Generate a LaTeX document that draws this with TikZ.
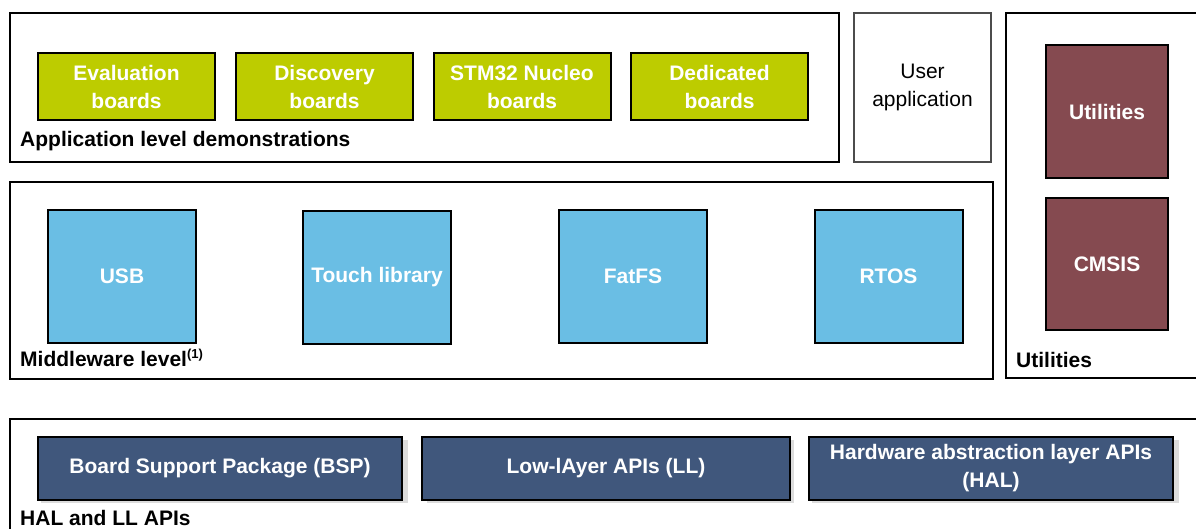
\documentclass[tikz,border=0pt]{standalone}
\usepackage{fontspec}
\setmainfont{Liberation Sans}
\definecolor{evalgreen}{HTML}{BDCC00}
\definecolor{midblue}{HTML}{6ABEE4}
\definecolor{utilred}{HTML}{854A50}
\definecolor{halblue}{HTML}{40577C}
\definecolor{shade}{HTML}{DCDCDC}
\tikzset{
  frame/.style={draw=black, line width=2.4pt, anchor=north west, inner sep=0pt},
  boardbox/.style={draw=black, line width=2pt, fill=evalgreen, text=white, align=center,
    minimum width=177pt, minimum height=67pt, inner sep=0pt,
    font=\bfseries\fontsize{21}{28}\selectfont},
  midbox/.style={draw=black, line width=2pt, fill=midblue, text=white,
    minimum width=148pt, minimum height=133pt, inner sep=0pt,
    font=\bfseries\fontsize{21}{26}\selectfont},
  utilbox/.style={draw=black, line width=2pt, fill=utilred, text=white,
    minimum width=122pt, minimum height=132pt, inner sep=0pt,
    font=\bfseries\fontsize{21}{26}\selectfont},
  apibox/.style={draw=black, line width=2pt, fill=halblue, text=white, align=center,
    minimum width=367pt, minimum height=63pt, inner sep=0pt,
    font=\bfseries\fontsize{21}{28}\selectfont},
  apishade/.style={fill=shade, minimum width=367pt, minimum height=63pt, inner sep=0pt},
  levellabel/.style={anchor=west, inner sep=0pt, font=\bfseries\fontsize{21}{25}\selectfont}
}
\begin{document}
\begin{tikzpicture}[x=1pt,y=-1pt]
  \useasboundingbox (0,0) rectangle (1196,528);

  % outer frames
  \node[frame, minimum width=829pt, minimum height=149pt] (appframe) at (9,12) {};
  \node[frame, draw=black!70, line width=2pt, minimum width=137pt, minimum height=149pt,
        align=center, font=\fontsize{21}{28}\selectfont] (user) at (853,12)
        {User\\application};
  \node[frame, minimum width=983pt, minimum height=197pt] (midframe) at (9,181) {};
  \node[frame, minimum width=220pt, minimum height=365pt] (utilframe) at (1005,12) {};
  \node[frame, minimum width=1210pt, minimum height=140pt] (halframe) at (9,418) {};

  % application level
  \node[boardbox] (eval) at (126.5,86.5) {Evaluation\\boards};
  \node[boardbox] (disco) at (324.5,86.5) {Discovery\\boards};
  \node[boardbox] (nucleo) at (522,86.5) {STM32 Nucleo\\boards};
  \node[boardbox] (dedic) at (719.5,86.5) {Dedicated\\boards};
  \node[levellabel] (applabel) at (20,141) {Application level demonstrations};

  % middleware level
  \node[midbox] (usb) at (122,276.5) {USB};
  \node[midbox] (touch) at (377,277) {Touch library};
  \node[midbox] (fatfs) at (633,276.5) {FatFS};
  \node[midbox] (rtos) at (888.5,276.5) {RTOS};
  \node[levellabel] (midlabel) at (20,358) {Middleware level\textsuperscript{\fontsize{13}{13}\selectfont(1)}};

  % utilities
  \node[utilbox, minimum height=133pt] (utils) at (1107,111.5) {Utilities};
  \node[utilbox] (cmsis) at (1107,264) {CMSIS};
  \node[levellabel] (utillabel) at (1016,360) {Utilities};

  % HAL and LL
  \foreach \x in {220,606,991} {
    \node[apishade] at (\x+4,471.5) {};
  }
  \node[apibox, minimum width=364pt] (bsp) at (220,468.5) {Board Support Package (BSP)};
  \node[apibox, minimum width=368pt] (ll) at (606,468.5) {Low-lAyer APIs (LL)};
  \node[apibox, minimum width=364pt] (hal) at (991,468.5) {Hardware abstraction layer APIs\\(HAL)};
  \node[levellabel] (hallabel) at (20,518) {HAL and LL APIs};
\end{tikzpicture}
\end{document}
